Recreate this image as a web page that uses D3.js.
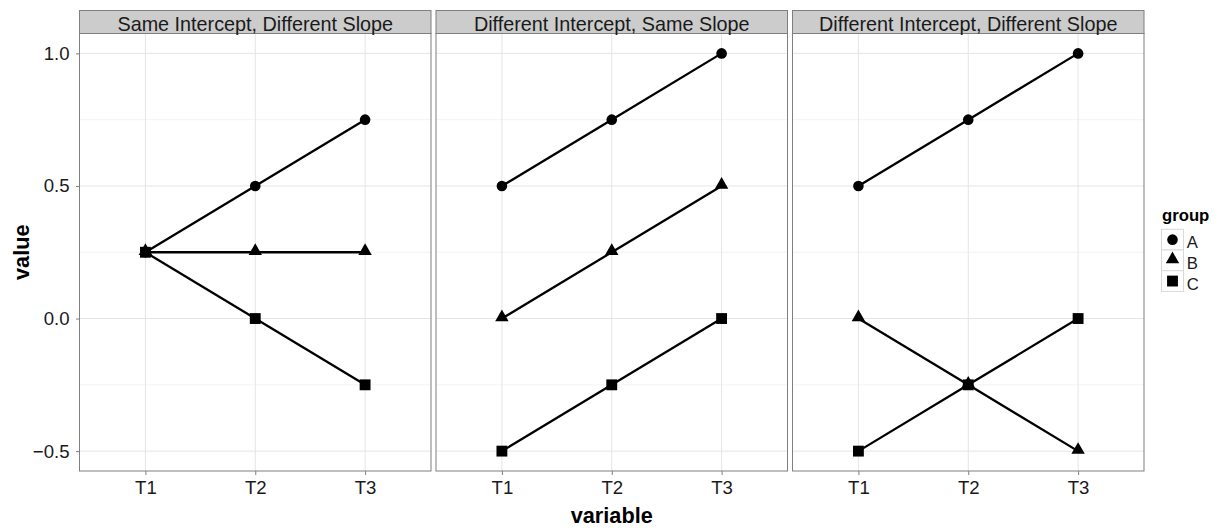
<!DOCTYPE html>
<html>
<head>
<meta charset="utf-8">
<script src="https://cdn.jsdelivr.net/npm/d3@7"></script>
<style>
  html, body { margin: 0; padding: 0; background: #ffffff; }
  svg { display: block; font-family: "Liberation Sans", Arial, sans-serif; }
</style>
</head>
<body>
<svg id="chart" width="1221" height="532"></svg>
<script>
// Facet titles, x categories and groups
const facets = [
  "Same Intercept, Different Slope",
  "Different Intercept, Same Slope",
  "Different Intercept, Different Slope"
];
const categories = ["T1", "T2", "T3"];
const groups = ["A", "B", "C"];
const yTicks = [-0.5, 0.0, 0.5, 1.0];
const yMinor = [-0.25, 0.25, 0.75];

// Values per facet, per group (T1, T2, T3)
const sameInterceptDiffSlope = {
  A: [0.25, 0.5, 0.75],
  B: [0.25, 0.25, 0.25],
  C: [0.25, 0.0, -0.25]
};
const diffInterceptSameSlope = {
  A: [0.5, 0.75, 1.0],
  B: [0.0, 0.25, 0.5],
  C: [-0.5, -0.25, 0.0]
};
const diffInterceptDiffSlope = {
  A: [0.5, 0.75, 1.0],
  B: [0.0, -0.25, -0.5],
  C: [-0.5, -0.25, 0.0]
};
const facetValues = [sameInterceptDiffSlope, diffInterceptSameSlope, diffInterceptDiffSlope];

const svg = d3.select("#chart");
const FONT = "Liberation Sans, Arial, sans-serif";

// Layout
const panelLefts = [79.5, 436, 792.5];
const panelW = 351.5;
const stripTop = 10.5, stripH = 23;
const panelTop = stripTop + stripH, panelBottom = 471;

const y = d3.scaleLinear()
  .domain([-0.575, 1.075])
  .range([panelBottom, panelTop]);

const symbolFor = {
  A: d3.symbol().type(d3.symbolCircle).size(Math.PI * 5.3 * 5.3),
  B: d3.symbol().type(d3.symbolTriangle).size(78),
  C: d3.symbol().type(d3.symbolSquare).size(118)
};

const line = d3.line();

facets.forEach((title, fi) => {
  const x0 = panelLefts[fi];
  const x = d3.scalePoint()
    .domain(categories)
    .range([x0 + panelW * 0.6 / 3.2, x0 + panelW * 2.6 / 3.2]);

  const g = svg.append("g");

  // panel background
  g.append("rect")
    .attr("x", x0).attr("y", panelTop)
    .attr("width", panelW).attr("height", panelBottom - panelTop)
    .attr("fill", "#ffffff");

  // minor grid
  g.selectAll(".ymin").data(yMinor).enter().append("line")
    .attr("x1", x0).attr("x2", x0 + panelW)
    .attr("y1", d => y(d)).attr("y2", d => y(d))
    .attr("stroke", "#f3f3f3").attr("stroke-width", 1);

  // major grid
  g.selectAll(".ymaj").data(yTicks).enter().append("line")
    .attr("x1", x0).attr("x2", x0 + panelW)
    .attr("y1", d => y(d)).attr("y2", d => y(d))
    .attr("stroke", "#e5e5e5").attr("stroke-width", 1);
  g.selectAll(".xmaj").data(categories).enter().append("line")
    .attr("x1", d => x(d)).attr("x2", d => x(d))
    .attr("y1", panelTop).attr("y2", panelBottom)
    .attr("stroke", "#e5e5e5").attr("stroke-width", 1);

  const vals = facetValues[fi];

  // lines
  groups.forEach(gr => {
    g.append("path")
      .attr("d", line(categories.map((c, i) => [x(c), y(vals[gr][i])])))
      .attr("fill", "none")
      .attr("stroke", "#000")
      .attr("stroke-width", 2.3);
  });

  // points
  groups.forEach(gr => {
    categories.forEach((c, i) => {
      const dy = gr === "B" ? -1.2 : 0;
      g.append("path")
        .attr("d", symbolFor[gr]())
        .attr("transform", `translate(${x(c)},${y(vals[gr][i]) + dy})`)
        .attr("fill", "#000");
    });
  });

  // panel border
  g.append("rect")
    .attr("x", x0).attr("y", panelTop)
    .attr("width", panelW).attr("height", panelBottom - panelTop)
    .attr("fill", "none").attr("stroke", "#7f7f7f").attr("stroke-width", 1);

  // strip
  g.append("rect")
    .attr("x", x0).attr("y", stripTop)
    .attr("width", panelW).attr("height", stripH)
    .attr("fill", "#cccccc").attr("stroke", "#7f7f7f").attr("stroke-width", 1);
  g.append("text")
    .attr("x", x0 + panelW / 2).attr("y", 30.5)
    .attr("text-anchor", "middle")
    .attr("font-family", FONT)
    .attr("font-size", 19.8)
    .attr("fill", "#1a1a1a")
    .text(title);

  // x axis
  const xAxis = d3.axisBottom(x).tickSize(4).tickPadding(0);
  const xa = g.append("g").attr("transform", `translate(0,${panelBottom})`).call(xAxis);
  xa.attr("font-family", FONT).attr("font-size", 18.6);
  xa.select(".domain").remove();
  xa.selectAll(".tick line").attr("stroke", "#7f7f7f");
  xa.selectAll(".tick text").attr("dy", null).attr("y", 23.3).attr("fill", "#1a1a1a");
});

// y axis on first panel
const yAxis = d3.axisLeft(y).tickValues(yTicks).tickSize(3.5).tickPadding(6.5)
  .tickFormat(d => d3.format(".1f")(d).replace("-", "\u2212"));
const ya = svg.append("g").attr("transform", `translate(${panelLefts[0]},0)`).call(yAxis);
ya.attr("font-family", FONT).attr("font-size", 18.6);
ya.select(".domain").remove();
ya.selectAll(".tick line").attr("stroke", "#7f7f7f");
ya.selectAll(".tick text").attr("fill", "#1a1a1a");

// axis titles
svg.append("text")
  .attr("x", (panelLefts[0] + panelLefts[2] + panelW) / 2)
  .attr("y", 523.3)
  .attr("text-anchor", "middle")
  .attr("font-family", FONT)
  .attr("font-size", 21.7).attr("font-weight", "bold")
  .text("variable");
svg.append("text")
  .attr("transform", `translate(28.5,${(panelTop + panelBottom) / 2}) rotate(-90)`)
  .attr("text-anchor", "middle")
  .attr("font-family", FONT)
  .attr("font-size", 21.7).attr("font-weight", "bold")
  .text("value");

// legend
const lg = svg.append("g").attr("transform", "translate(1161.5,0)");
lg.append("text").attr("x", 0.5).attr("y", 221)
  .attr("font-family", FONT)
  .attr("font-size", 16.7).attr("font-weight", "bold").text("group");
const keySize = 20.7;
groups.forEach((gr, i) => {
  const ky = 229.3 + i * keySize;
  lg.append("rect")
    .attr("x", 0).attr("y", ky).attr("width", 22).attr("height", keySize)
    .attr("fill", "#ffffff").attr("stroke", "#d9d9d9").attr("stroke-width", 1);
  lg.append("path")
    .attr("d", symbolFor[gr]())
    .attr("transform", `translate(11,${ky + keySize / 2 + (gr === "B" ? -1 : 0)})`)
    .attr("fill", "#000");
  lg.append("text")
    .attr("x", 25.2).attr("y", ky + 19)
    .attr("font-family", FONT)
    .attr("font-size", 16.7).attr("fill", "#1a1a1a").text(gr);
});
</script>
</body>
</html>
